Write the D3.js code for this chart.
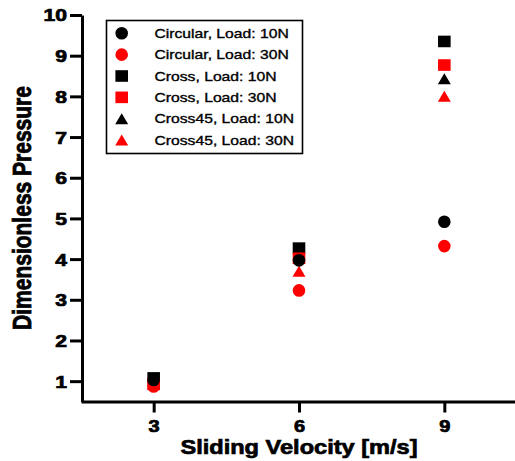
<!DOCTYPE html>
<html><head><meta charset="utf-8">
<script src="https://cdn.jsdelivr.net/npm/d3@7"></script>
<style>body{margin:0;background:#fff}svg{display:block}</style>
</head><body>
<svg id="c" width="515" height="461"></svg>
<script>
// ---- data ----
const velocities = [3, 6, 9];
const seriesNames = ["Circular, Load: 10N", "Circular, Load: 30N", "Cross, Load: 10N", "Cross, Load: 30N", "Cross45, Load: 10N", "Cross45, Load: 30N"];
const seriesColors = ["#000000", "#ff0000", "#000000", "#ff0000", "#000000", "#ff0000"];
const seriesShapes = ["circle", "circle", "square", "square", "triangle", "triangle"];
const circular10 = [1.03, 3.97, 4.92];
const circular30 = [0.87, 3.23, 4.32];
const cross10 = [1.08, 4.27, 9.35];
const cross30 = [0.92, 4.02, 8.77];
const cross45_10 = [1.02, 4.08, 8.43];
const cross45_30 = [0.93, 3.70, 8.00];
const seriesValues = [circular10, circular30, cross10, cross30, cross45_10, cross45_30];
const drawOrder = [4, 2, 3, 5, 1, 0];
const xTicks = [3, 6, 9];
const yTicks = [1, 2, 3, 4, 5, 6, 7, 8, 9, 10];
const xTitle = "Sliding Velocity [m/s]";
const yTitle = "Dimensionless Pressure";

// ---- layout ----
const svg = d3.select("#c");
const x = d3.scaleLinear().domain([1.5, 10.5]).range([81, 517]);
const y = d3.scaleLinear().domain([0.5, 10]).range([401.5, 15]);
const FONT = "'Liberation Sans', Arial, sans-serif";

function stretch(sel, sx) {
  sel.each(function () {
    const w = this.getComputedTextLength();
    d3.select(this).attr("textLength", w * sx).attr("lengthAdjust", "spacingAndGlyphs");
  });
}

function shapePath(shape, cx, cy) {
  const p = d3.path();
  if (shape === "circle") {
    const r = 6.3;
    p.moveTo(cx + r, cy); p.arc(cx, cy, r, 0, 2 * Math.PI); p.closePath();
  } else if (shape === "square") {
    p.rect(cx - 6.3, cy - 5.8, 12.6, 11.6);
  } else {
    const w = 13, h = 11;
    p.moveTo(cx, cy - h / 2); p.lineTo(cx + w / 2, cy + h / 2); p.lineTo(cx - w / 2, cy + h / 2); p.closePath();
  }
  return p.toString();
}

// axes
const gx = svg.append("g").attr("transform", `translate(0,${y(0.5)})`)
  .call(d3.axisBottom(x).tickValues(xTicks).tickSize(11).tickSizeOuter(0).tickPadding(8));
const gy = svg.append("g").attr("transform", `translate(${x(1.5) + 1},0)`)
  .call(d3.axisLeft(y).tickValues(yTicks).tickSize(12).tickSizeOuter(0).tickPadding(3));
[gx, gy].forEach(g => {
  g.select(".domain").attr("stroke", "#000").attr("stroke-width", 3);
  g.selectAll(".tick line").attr("stroke", "#000").attr("stroke-width", 3);
  g.selectAll(".tick text").attr("fill", "#000").attr("font-family", FONT).attr("font-weight", "bold")
    .attr("stroke", "#000").attr("stroke-width", 0.7);
});
gx.selectAll(".tick text").attr("font-size", 16).attr("dy", "0.71em");
gy.selectAll(".tick text").attr("font-size", 16.5).attr("dy", "0.36em");
stretch(gx.selectAll(".tick text"), 1.25);
stretch(gy.selectAll(".tick text"), 1.28);

// titles
const xt = svg.append("text").attr("x", 299).attr("y", 454).attr("text-anchor", "middle")
  .attr("font-family", FONT).attr("font-weight", "bold").attr("font-size", 20.5).attr("fill", "#000")
  .attr("stroke", "#000").attr("stroke-width", 0.7).text(xTitle);
stretch(xt, 1.15);
svg.append("g").attr("transform", "translate(31,208) scale(1.2,1) rotate(-90)")
  .append("text").attr("text-anchor", "middle")
  .attr("font-family", FONT).attr("font-weight", "bold").attr("font-size", 21).attr("fill", "#000")
  .attr("stroke", "#000").attr("stroke-width", 0.7).text(yTitle);

// points
drawOrder.forEach(si => {
  svg.append("g").selectAll("path").data(seriesValues[si]).join("path")
    .attr("d", (v, i) => shapePath(seriesShapes[si], x(velocities[i]), y(v)))
    .attr("fill", seriesColors[si]);
});

// legend
const lg = svg.append("g");
lg.append("rect").attr("x", 106.5).attr("y", 20.5).attr("width", 196).attr("height", 133)
  .attr("fill", "#fff").attr("stroke", "#000").attr("stroke-width", 1.6);
seriesNames.forEach((name, i) => {
  const cy = 33.3 + i * 21.35;
  lg.append("path").attr("d", shapePath(seriesShapes[i], 121.7, cy)).attr("fill", seriesColors[i]);
  const t = lg.append("text").attr("x", 154.5).attr("y", cy + 4.6)
    .attr("font-family", FONT).attr("font-size", 12.6).attr("fill", "#000")
    .attr("stroke", "#000").attr("stroke-width", 0.35).text(name);
  stretch(t, 1.245);
});
</script>
</body></html>
